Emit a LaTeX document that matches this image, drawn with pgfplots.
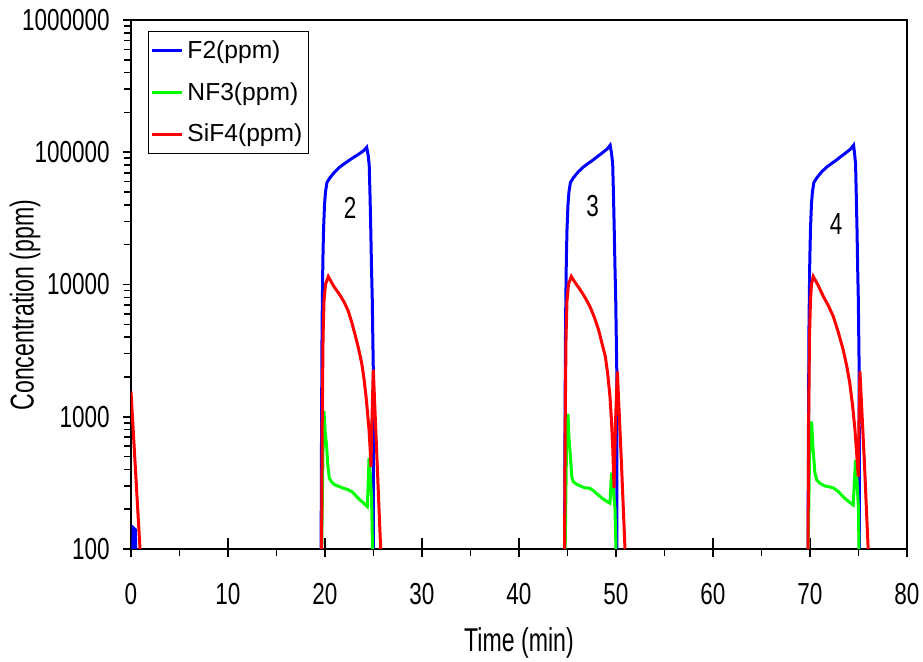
\documentclass[border=0pt]{standalone}
\usepackage{fontspec}
\setmainfont{Liberation Sans}
\newfontfamily\condfont{Liberation Sans}[FakeStretch=0.74]
\newfontfamily\labfont{Liberation Sans}[FakeStretch=0.7]
\usepackage{pgfplots}
\pgfplotsset{compat=1.18}

\definecolor{fblue}{RGB}{0,0,255}
\definecolor{ngreen}{RGB}{0,255,0}
\definecolor{sred}{RGB}{255,0,0}

\begin{document}
\begin{tikzpicture}
\path[use as bounding box] (-65.5pt,-56.5pt) rectangle (396pt,274.5pt);
\begin{axis}[
    scale only axis,
    width=388pt, height=264.5pt,
    ymode=log,
    xmin=0, xmax=80,
    ymin=100, ymax=1000000,
    xtick={0,10,...,80},
    minor x tick num=1,
    ytick={100,1000,10000,100000,1000000},
    yticklabels={100,1000,10000,100000,1000000},
    xtick pos=bottom, ytick pos=left,
    tick align=outside,
    major tick length=4pt, minor tick length=3.5pt,
    extra x ticks={0,10,...,80},
    extra x tick labels={},
    extra x tick style={tick align=inside, major tick length=5.5pt},
    every tick/.style={black, line width=0.8pt},
    axis line style={line width=1.1pt},
    /pgf/number format/assume math mode=true,
    tick label style={font=\condfont\fontsize{15.2}{17}\selectfont},
    yticklabel style={inner sep=0pt, xshift=-6.5pt},
    xticklabel style={inner sep=0pt, yshift=-13pt},
    label style={font=\labfont\fontsize{16.5}{19}\selectfont},
    xlabel={Time (min)},
    ylabel={Concentration (ppm)},
    xlabel style={at={(axis description cs:0.5,-0.1777)}, anchor=center},
    ylabel style={at={(axis description cs:-0.1366,0.461)}, anchor=center},
    legend style={at={(axis description cs:0,1)}, anchor=north west,
        xshift=8.5pt, yshift=-5.5pt, draw=black, line width=0.5pt,
        font=\fontsize{12.3}{14}\selectfont,
        inner xsep=1pt, inner ysep=2.5pt, row sep=6.5pt},
    legend cell align=left,
    legend image code/.code={\draw[#1, line width=1.5pt] (0pt,0pt) -- (15pt,0pt);},
    every axis plot/.append style={line width=1.5pt, no markers},
]
\addplot[fblue] coordinates {
 (0,50) (0.15,50) (0.22,145) (0.45,140) (0.55,50)
 (19.5,50) (19.6,100) (19.65,1000) (19.7,5000) (19.78,15000) (19.85,26000)
 (19.95,40000) (20.05,50000) (20.2,59000) (20.5,64000) (21,71000) (21.5,77000)
 (22,82000) (22.5,87000) (23,92000) (23.5,97000) (24,103000) (24.3,109000)
 (24.45,95000) (24.56,80000) (24.65,45000) (24.72,26000) (24.8,13000)
 (24.87,8000) (24.93,4000) (24.98,2300) (25.0,100) (25.05,50)
 (44.6,50) (44.7,100) (44.75,1000) (44.8,5000) (44.88,15000) (44.95,26000)
 (45.05,40000) (45.15,50000) (45.3,59000) (45.6,64000) (46.1,71000) (46.6,77000)
 (47.1,82000) (47.6,87000) (48.1,93000) (48.6,99000) (49.1,106000) (49.4,113000)
 (49.55,97000) (49.66,82000) (49.75,45000) (49.82,26000) (49.9,13000)
 (49.97,8000) (50.03,4000) (50.08,2300) (50.1,100) (50.15,50)
 (69.7,50) (69.8,100) (69.85,1000) (69.9,5000) (69.98,15000) (70.05,26000)
 (70.15,40000) (70.25,50000) (70.4,59000) (70.7,64000) (71.2,71000) (71.7,77000)
 (72.2,82000) (72.7,87000) (73.2,93000) (73.7,99000) (74.2,106000) (74.5,113000)
 (74.6,97000) (74.7,82000) (74.78,45000) (74.85,26000) (74.92,13000)
 (74.98,8000) (75.03,4000) (75.07,2300) (75.1,100) (75.15,50) (80,50)
};
\addlegendentry{F2(ppm)}
\addplot[ngreen] coordinates {
 (0,50) (19.6,50) (19.66,100) (19.8,600) (19.9,1100) (20.0,800) (20.17,596)
 (20.3,420) (20.45,343) (20.7,320) (21.03,305) (21.5,296) (21.89,288)
 (22.3,282) (22.75,272) (23.2,252) (23.6,235) (24.0,222) (24.36,209)
 (24.45,300) (24.54,487) (24.65,380) (24.8,249) (24.9,100) (24.95,50)
 (44.7,50) (44.76,100) (44.9,600) (45.05,1050) (45.15,700) (45.3,500)
 (45.45,350) (45.6,323) (45.9,310) (46.3,300) (46.8,290) (47.3,288)
 (47.7,275) (48.2,255) (48.7,238) (49.1,228) (49.38,222) (49.47,300)
 (49.55,377) (49.7,300) (49.9,200) (50.0,100) (50.05,50)
 (69.75,50) (69.82,100) (69.95,500) (70.17,920) (70.3,600) (70.5,380)
 (70.69,333) (71.0,315) (71.5,300) (72.0,295) (72.4,290) (72.92,272)
 (73.5,245) (74.0,228) (74.46,215) (74.6,350) (74.71,472) (74.85,330)
 (75.0,200) (75.05,100) (75.1,50) (80,50)
};
\addlegendentry{NF3(ppm)}
\addplot[sred] coordinates {
 (0,1550) (0.93,100) (1.0,50)
 (19.55,50) (19.65,100) (19.72,1000) (19.8,4000) (19.9,7500) (20.05,10000)
 (20.34,11500) (20.86,9800) (21.55,8300) (22.0,7300) (22.4,6300)
 (22.75,5200) (23.09,4200) (23.45,3300) (23.78,2550) (24.0,2000)
 (24.23,1425) (24.4,1050) (24.54,795) (24.65,580) (24.74,417) (24.85,1000)
 (24.98,2270) (25.36,480) (25.74,100) (25.8,50)
 (44.6,50) (44.7,100) (44.77,1000) (44.85,4000) (44.95,7500) (45.1,10000)
 (45.39,11500) (45.8,10300) (46.3,9160) (46.8,8000) (47.3,6850)
 (47.75,5700) (48.2,4560) (48.55,3600) (48.9,2860) (49.15,2100)
 (49.38,1425) (49.53,950) (49.66,596) (49.8,290) (49.95,900) (50.14,2200)
 (50.55,470) (50.93,100) (51.0,50)
 (69.7,50) (69.8,100) (69.87,1000) (69.95,4000) (70.05,7500) (70.15,10000)
 (70.34,11500) (70.8,10000) (71.37,8150) (71.9,6900) (72.4,5750)
 (72.9,4400) (73.43,3200) (73.8,2400) (74.1,1800) (74.4,1200)
 (74.64,795) (74.82,520) (74.98,353) (75.05,900) (75.15,2200)
 (75.6,470) (76.0,100) (76.1,50) (80,50)
};
\addlegendentry{SiF4(ppm)}
\node[font=\condfont\fontsize{15.2}{17}\selectfont] at (axis cs:22.6,38000) {2};
\node[font=\condfont\fontsize{15.2}{17}\selectfont] at (axis cs:47.6,39500) {3};
\node[font=\condfont\fontsize{15.2}{17}\selectfont] at (axis cs:72.7,28500) {4};
\end{axis}
\end{tikzpicture}
\end{document}
